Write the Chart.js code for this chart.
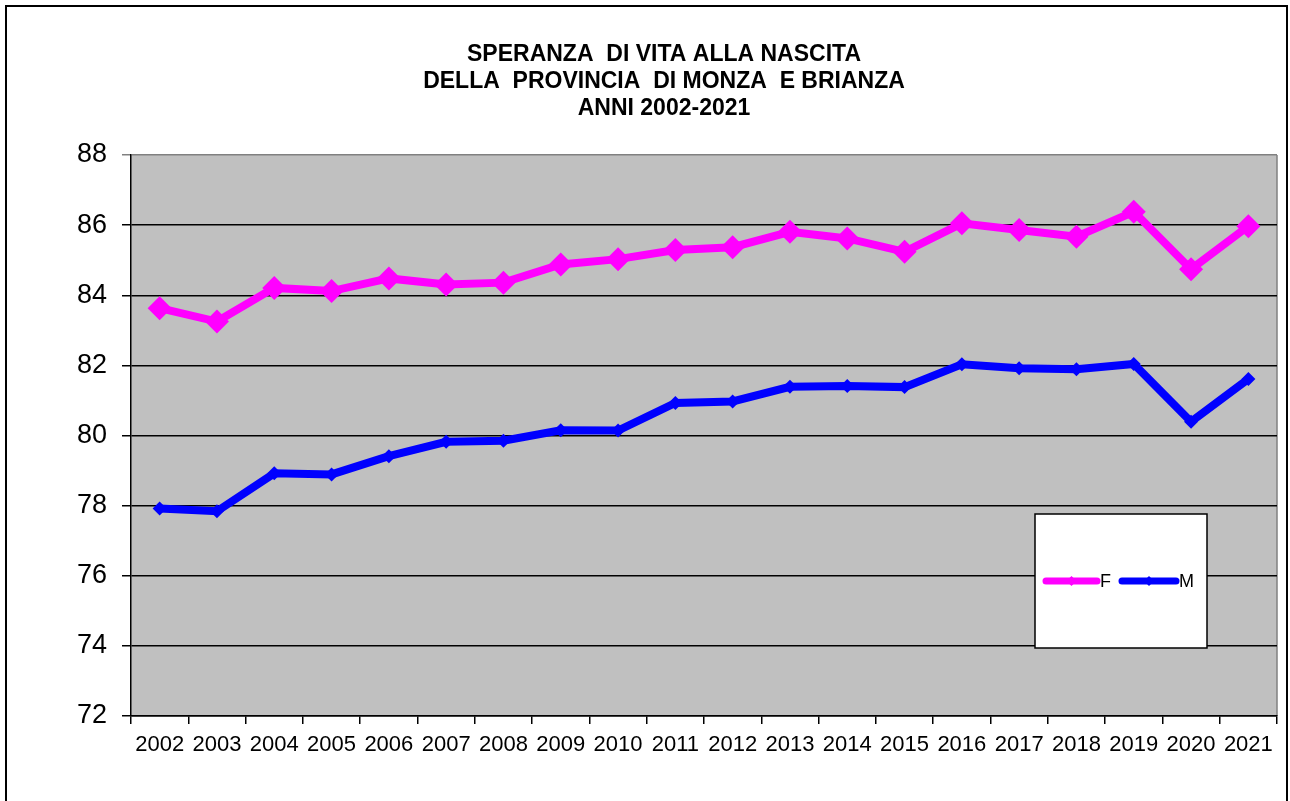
<!DOCTYPE html>
<html>
<head>
<meta charset="utf-8">
<script src="https://cdn.jsdelivr.net/npm/chart.js@4.4.1/dist/chart.umd.min.js"></script>
<style>
html,body{margin:0;padding:0;background:#fff;}
#wrap{position:relative;width:1290px;height:801px;}
</style>
</head>
<body>
<div id="wrap"><canvas id="c" width="1290" height="801"></canvas></div>
<script>
const titleLines = ["SPERANZA  DI VITA ALLA NASCITA", "DELLA  PROVINCIA  DI MONZA  E BRIANZA", "ANNI 2002-2021"];
const years = ["2002","2003","2004","2005","2006","2007","2008","2009","2010","2011","2012","2013","2014","2015","2016","2017","2018","2019","2020","2021"];
const femmine = [83.63,83.25,84.21,84.12,84.48,84.31,84.36,84.88,85.03,85.29,85.37,85.81,85.62,85.24,86.05,85.86,85.67,86.38,84.74,85.97];
const maschi = [77.92,77.84,78.92,78.89,79.41,79.82,79.85,80.15,80.14,80.93,80.97,81.39,81.41,81.38,82.03,81.92,81.89,82.04,80.39,81.61];
const seriesLabels = ["F","M"];
const yTicks = [72,74,76,78,80,82,84,86,88];

const frameAndBg = {
  id: 'frameAndBg',
  beforeDraw(chart) {
    const {ctx, chartArea: a} = chart;
    ctx.save();
    ctx.fillStyle = '#ffffff';
    ctx.fillRect(0, 0, chart.width, chart.height);
    ctx.fillStyle = '#c0c0c0';
    ctx.fillRect(a.left, a.top, a.right - a.left, a.bottom - a.top);
    ctx.strokeStyle = '#808080';
    ctx.lineWidth = 1.5;
    ctx.beginPath();
    ctx.moveTo(a.right, a.top);
    ctx.lineTo(a.right, a.bottom);
    ctx.stroke();
    ctx.restore();
  },
  afterDraw(chart) {
    const {ctx} = chart;
    ctx.save();
    ctx.strokeStyle = '#000000';
    ctx.lineWidth = 2;
    ctx.strokeRect(6, 6, 1281, 820);
    ctx.restore();
  }
};

const boxLegend = {
  id: 'boxLegend',
  afterDatasetsDraw(chart) {
    const {ctx} = chart;
    const bx = 1035, by = 514, bw = 172, bh = 134;
    ctx.save();
    ctx.fillStyle = '#ffffff';
    ctx.fillRect(bx, by, bw, bh);
    ctx.strokeStyle = '#000000';
    ctx.lineWidth = 1.5;
    ctx.strokeRect(bx, by, bw, bh);
    const cy = by + 67;
    const items = [{x0:1046,x1:1097},{x0:1122,x1:1176}];
    ctx.font = '18px "Liberation Sans", Arial, sans-serif';
    ctx.textBaseline = 'middle';
    chart.data.datasets.forEach((ds, i) => {
      const it = items[i];
      ctx.strokeStyle = ds.borderColor;
      ctx.lineWidth = 7;
      ctx.lineCap = 'round';
      ctx.beginPath();
      ctx.moveTo(it.x0, cy);
      ctx.lineTo(it.x1, cy);
      ctx.stroke();
      const mx = (it.x0 + it.x1) / 2, r = 5;
      ctx.fillStyle = ds.borderColor;
      ctx.beginPath();
      ctx.moveTo(mx, cy - r); ctx.lineTo(mx + r, cy); ctx.lineTo(mx, cy + r); ctx.lineTo(mx - r, cy);
      ctx.closePath(); ctx.fill();
      ctx.fillStyle = '#000000';
      ctx.textAlign = 'left';
      ctx.fillText(ds.label, it.x1 + 3, cy + 1);
    });
    ctx.restore();
  }
};

new Chart(document.getElementById('c'), {
  type: 'line',
  data: {
    labels: years,
    datasets: [
      {label: seriesLabels[0], data: femmine, borderColor: '#ff00ff', backgroundColor: '#ff00ff',
       borderWidth: 8, pointStyle: 'rectRot', pointRadius: 12, pointHoverRadius: 12, pointBorderWidth: 0, tension: 0},
      {label: seriesLabels[1], data: maschi, borderColor: '#0000ff', backgroundColor: '#0000ff',
       borderWidth: 8, pointStyle: 'rectRot', pointRadius: 7, pointHoverRadius: 7, pointBorderWidth: 0, tension: 0}
    ]
  },
  options: {
    responsive: false,
    animation: false,
    devicePixelRatio: 1,
    layout: {padding: {left: 51, right: 13, top: 0, bottom: 0}},
    plugins: {
      legend: {display: false},
      tooltip: {enabled: false},
      title: {
        display: true,
        text: titleLines,
        color: '#000000',
        font: {family: '"Liberation Sans", Arial, sans-serif', size: 23, weight: 'bold', lineHeight: '27px'},
        padding: {top: 41, bottom: 33}
      }
    },
    scales: {
      x: {
        type: 'category',
        offset: true,
        grid: {offset: true, drawOnChartArea: false, drawTicks: true, tickLength: 8, color: '#000000', lineWidth: 1.5},
        border: {color: '#000000', width: 1.5},
        ticks: {color: '#000000', font: {family: '"Liberation Sans", Arial, sans-serif', size: 22}, padding: 8, maxRotation: 0, autoSkip: false},
        afterFit(scale) { scale.height = 85; }
      },
      y: {
        min: 72, max: 88,
        afterBuildTicks(scale) { scale.ticks = yTicks.map(v => ({value: v})); },
        grid: {color: (c) => c.tick && c.tick.value === 88 ? '#808080' : '#000000', lineWidth: 1.5, drawTicks: true, tickLength: 9},
        border: {color: '#000000', width: 1.5},
        ticks: {color: '#000000', font: {family: '"Liberation Sans", Arial, sans-serif', size: 27}, padding: 15},
        afterFit(scale) { scale.width = 80; }
      }
    }
  },
  plugins: [frameAndBg, boxLegend]
});
</script>
</body>
</html>
